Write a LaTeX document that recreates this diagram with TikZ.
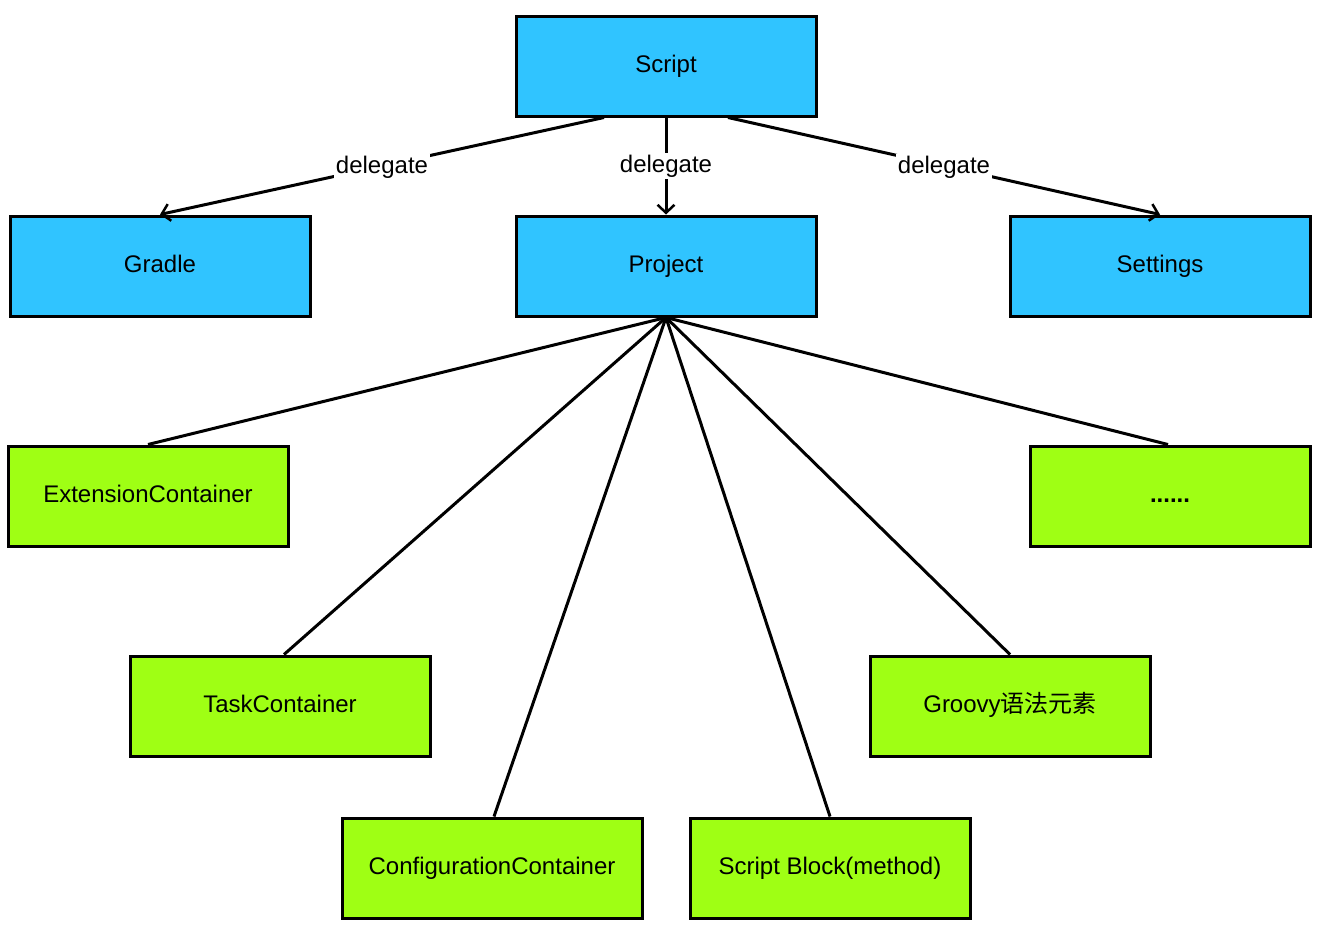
\documentclass[tikz,border=0pt]{standalone}
\usepackage{fontspec}
\setmainfont{Liberation Sans}
\newfontfamily\cjk{Noto Sans CJK SC}
\usetikzlibrary{arrows.meta}
\definecolor{boxblue}{HTML}{30C4FF}
\definecolor{boxgreen}{HTML}{9FFF14}
\begin{document}
\begin{tikzpicture}[x=1pt,y=-1pt,
  box/.style={draw=black,line width=3pt,minimum width=#1,minimum height=100pt,inner sep=0pt,text height=17pt,text depth=5pt,font=\fontsize{24}{28}\selectfont},
  bluebox/.style={box=300pt,fill=boxblue},
  greenbox/.style={box=#1,fill=boxgreen},
  conn/.style={line width=3pt},
  deleg/.style={conn,-{Straight Barb[length=8pt,width=17pt,line width=2.5pt]}},
  lbl/.style={fill=white,inner sep=2pt,yshift=-1pt,font=\fontsize{24}{28}\selectfont}]
\useasboundingbox (0,0) rectangle (1320,930);
\node[bluebox] (script) at (666,66) {Script};
\node[bluebox] (gradle) at (160,266) {Gradle};
\node[bluebox] (project) at (666,266) {Project};
\node[bluebox] (settings) at (1160,266) {Settings};
\node[greenbox=280pt] (ext) at (148,496) {ExtensionContainer};
\node[greenbox=280pt] (dots) at (1170,496) {\textbf{......}};
\node[greenbox=300pt] (task) at (280,706) {TaskContainer};
\node[greenbox=280pt] (groovy) at (1010,706) {Groovy{\cjk 语法元素}};
\node[greenbox=300pt] (config) at (492,868) {ConfigurationContainer};
\node[greenbox=280pt] (block) at (830,868) {Script Block(method)};
\coordinate (s1) at ([xshift=-62pt]script.south);
\coordinate (s3) at ([xshift=62pt]script.south);
\draw[deleg] (s1) -- node[lbl,pos=0.5] {delegate} (gradle.north);
\draw[deleg] (script.south) -- node[lbl,pos=0.49] {delegate} (project.north);
\draw[deleg] (s3) -- node[lbl,pos=0.5] {delegate} (settings.north);
\foreach \t/\dx in {ext/0,task/4,config/2,block/0,groovy/0,dots/-2}
  \draw[conn] (project.south) -- ([xshift=\dx pt]\t.north);
\end{tikzpicture}
\end{document}
